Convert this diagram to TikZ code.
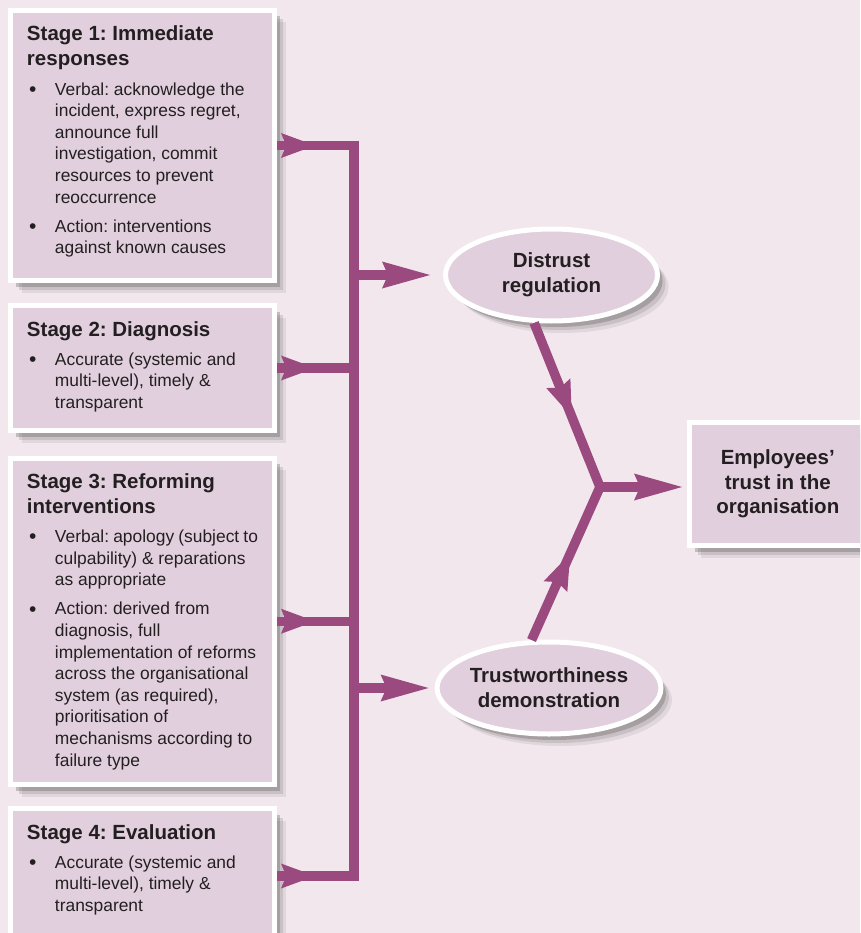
\documentclass[tikz,border=0pt]{standalone}
\usepackage{fontspec}
\setmainfont{Liberation Sans}
\usetikzlibrary{arrows.meta,shapes.geometric,shadows,decorations.markings,positioning}
\definecolor{plum}{RGB}{155,74,128}
\definecolor{boxfill}{RGB}{225,207,222}
\definecolor{pagebg}{RGB}{241,231,237}
\definecolor{inkdark}{RGB}{35,31,32}
\frenchspacing

\newcommand{\stagehead}[1]{{\fontsize{20.5}{25}\selectfont\bfseries\rule{0pt}{20pt}#1\par}}
\newcommand{\stageitem}[1]{\par\vspace{7.5pt}\noindent\hangindent=28pt\hangafter=1\hspace*{2pt}\makebox[26pt][l]{\raisebox{-1.2pt}{\fontsize{21}{0}\selectfont\textbullet}}#1\par}
\newcommand{\stagetext}[3]{\begin{minipage}[t][#1][t]{231pt}\setlength{\parindent}{0pt}\fontsize{17.4}{21.6}\selectfont\stagehead{#2}#3\end{minipage}}

\begin{document}
\begin{tikzpicture}[x=1pt, y=-1pt,
        boxshadow/.style={drop shadow={shadow xshift=11pt, shadow yshift=-12pt, fill=black!70, opacity=.10},
                          drop shadow={shadow xshift=8pt, shadow yshift=-9pt, fill=black!70, opacity=.16},
                          drop shadow={shadow xshift=5pt, shadow yshift=-6pt, fill=black!70, opacity=.28}},
        stagebox/.style={rectangle, draw=white, fill=boxfill, line width=5pt, inner xsep=16.5pt, inner ysep=10.5pt,
                         anchor=north west, text=inkdark, boxshadow},
        ovalnode/.style={ellipse, draw=white, fill=boxfill, line width=5pt, minimum width=212pt, minimum height=92pt,
                         inner sep=0pt, align=center, text=inkdark, font=\fontsize{20.5}{25}\selectfont\bfseries, boxshadow},
        flow/.style={color=plum, line width=9.5pt},
        midtip/.style={postaction={decorate}, decoration={markings,
            mark=at position #1 with {\arrow{Stealth[length=34pt, width=25pt, inset=5pt, line width=0pt]}}}},
        ytips/.style={postaction={decorate}, decoration={markings,
            mark=at position 101pt with {\arrow{Stealth[length=36pt, width=26pt, inset=5pt, line width=0pt]}},
            mark=at position 250pt with {\arrowreversed{Stealth[length=36pt, width=26pt, inset=5pt, line width=0pt]}}}},
        outtip/.style={-{Stealth[length=48pt, width=27pt, inset=6pt, line width=0pt]}}]
        \path[use as bounding box, fill=pagebg] (0, 0) rectangle (860, 933);
        \clip (0, 0) rectangle (860, 933);

        \node [stagebox] at (8, 8)     (s1) {\stagetext{249pt}{Stage 1: Immediate\\responses}{%
            \stageitem{Verbal: acknowledge the\\incident, express regret,\\announce full\\investigation, commit\\resources to prevent\\reoccurrence}%
            \stageitem{Action: interventions\\against known causes}}};
        \node [stagebox] at (8, 303)   (s2) {\stagetext{104pt}{Stage 2: Diagnosis}{%
            \stageitem{Accurate (systemic and\\multi-level), timely \&\\transparent}}};
        \node [stagebox] at (8, 455.5) (s3) {\stagetext{305.5pt}{Stage 3: Reforming\\interventions}{%
            \stageitem{Verbal: apology (subject to\\culpability) \& reparations\\as appropriate}%
            \stageitem{Action: derived from\\diagnosis, full\\implementation of reforms\\across the organisational\\system (as required),\\prioritisation of\\mechanisms according to\\failure type}}};
        \node [stagebox] at (8, 806)   (s4) {\stagetext{114pt}{Stage 4: Evaluation}{%
            \stageitem{Accurate (systemic and\\multi-level), timely \&\\transparent}}};

        \node [ovalnode] at (551.5, 275) (dist)  {Distrust\\regulation};
        \node [ovalnode] at (549, 688)   (trust) {Trustworthiness\\demonstration};
        \node [stagebox, minimum width=176.5pt, minimum height=123pt, inner sep=0pt, align=center,
               font=\fontsize{20.5}{24.5}\selectfont\bfseries] at (687, 420) (emp) {Employees’\\trust in the\\organisation};

        \coordinate (barx)   at (358.75, 0);
        \coordinate (bartop) at (354, 140.75);
        \coordinate (barbot) at (354, 880.75);
        \coordinate (J)      at (600, 487);

        \draw[flow] (bartop) -- (barbot);
        \draw[flow]
            (s1.east) edge[midtip=38pt] (s1.east -| barx)
            (s2.east) edge[midtip=38pt] (s2.east -| barx)
            (s3.east) edge[midtip=38pt] (s3.east -| barx)
            (s4.east) edge[midtip=38pt] (s4.east -| barx);
        \draw[flow]
            (dist.west -| bartop)  edge[outtip, shorten >=13pt] (dist.west)
            (trust.west -| bartop) edge[outtip, shorten >=6pt]  (trust.west);
        \draw[flow, line join=round, ytips] (dist.-110) -- (J) -- (trust.110);
        \draw[flow, outtip, shorten >=5pt] (J) -- (emp.west |- J);
    \end{tikzpicture}
\end{document}
